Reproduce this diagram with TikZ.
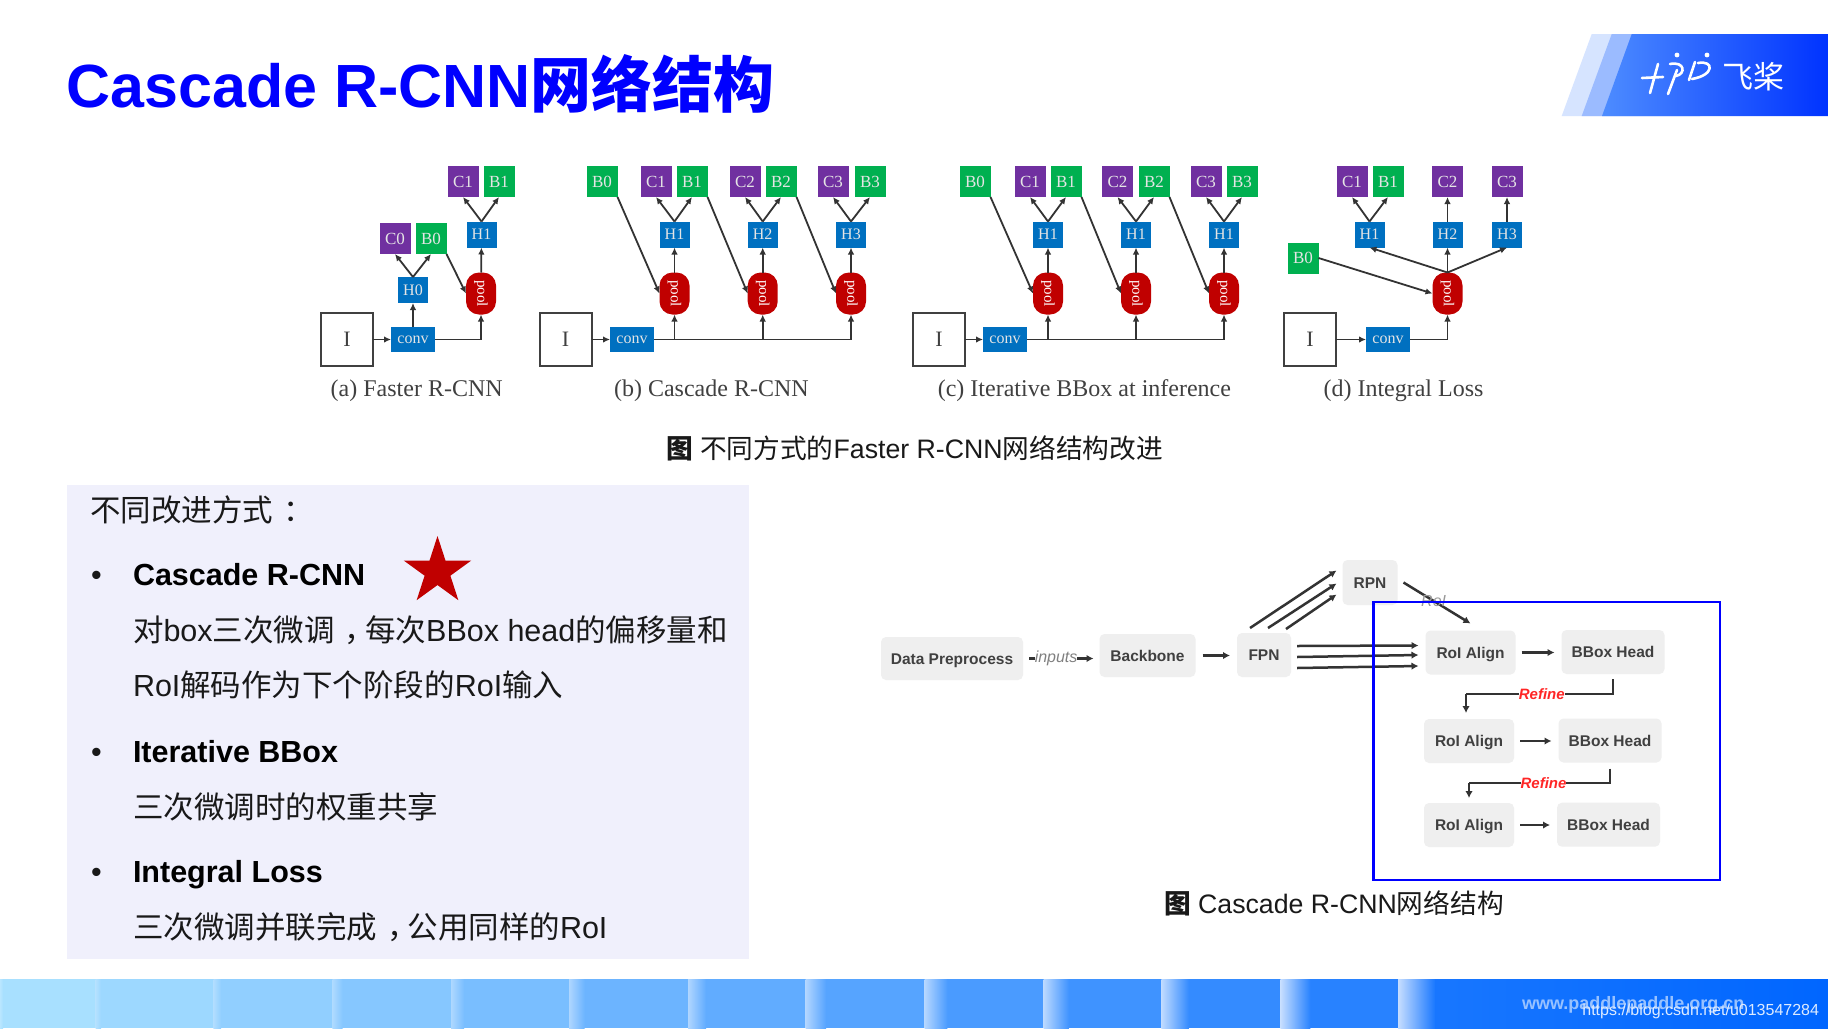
\documentclass[tikz,border=0pt]{standalone}
\usepackage{fontspec}
\setmainfont{Liberation Sans}
\newfontfamily\cjk{Noto Sans CJK SC}
\newfontfamily\serif{Liberation Serif}
\usetikzlibrary{arrows.meta,shapes.geometric}
\newcommand{\zh}[1]{{\cjk #1}}
% full-width punctuation set in the middle of its cell
\newcommand{\zp}[1]{{\cjk\kern.33em #1\kern-.33em}}
\newcommand{\fs}[1]{\fontsize{#1}{#1}\selectfont}
\newcommand{\pooltxt}{\rotatebox{-90}{pool}}
\definecolor{cpurple}{HTML}{7030A0}
\definecolor{cgreen}{HTML}{00B050}
\definecolor{cblue}{HTML}{0070C0}
\definecolor{cred}{HTML}{C00000}
\definecolor{panel}{HTML}{F0F0FC}
\definecolor{barstart}{HTML}{A8E0FF}
\definecolor{barend}{HTML}{1A78FF}
\definecolor{boxgrey}{HTML}{EFEFEF}
\definecolor{logoa}{HTML}{D6E4FF}
\definecolor{logob}{HTML}{9BBBFF}
\definecolor{logoc}{HTML}{4D8CFF}
\definecolor{logod}{HTML}{0033FF}
\tikzset{
  every node/.style={inner sep=0,outer sep=0},
  sq/.style={minimum width=31,minimum height=31,text=white!90!black,font=\serif\fs{17}},
  cc/.style={sq,fill=cpurple},
  bb/.style={sq,fill=cgreen},
  hh/.style={minimum width=30,minimum height=26,fill=cblue,text=white!90!black,font=\serif\fs{16}},
  cv/.style={minimum width=44,minimum height=25,fill=cblue,text=white!90!black,font=\serif\fs{16}},
  pl/.style={minimum width=30,minimum height=42,fill=cred,rounded corners=13,text=white,font=\serif\fs{15}},
  im/.style={minimum width=52,minimum height=53,draw=black!75,line width=1.8,font=\serif\fs{22},text=black!75},
  ar/.style={draw=black!80,line width=1.8,-{Latex[length=7,width=6.5]}},
  subcap/.style={anchor=base,font=\serif\fs{24},text=black!75},
  row/.style={anchor=base west,font=\fs{30.5},text=black!90},
  hd/.style={anchor=base west,font=\bfseries\fs{30.5},text=black},
  gb/.style={fill=boxgrey,rounded corners=5,font=\bfseries\fs{15.5},text=black!75,text height=11,text depth=0},
  go/.style={draw=black!80,line width=2.5,-{Latex[length=7,width=7.5]}},
  go2/.style={draw=black!80,line width=2.5},
  tag/.style={font=\itshape\fs{16},text=black!50},
  rf/.style={font=\bfseries\itshape\fs{15},text=red!85!white}
}
\begin{document}
\begin{tikzpicture}[x=1pt,y=-1pt]
\useasboundingbox (0,0) rectangle (1828,1028);
\fill[white] (0,0) rectangle (1828,1028);

% logo band
\fill[logoa] (1591.7,34) -- (1700,34) -- (1700,116) -- (1561.7,116) -- cycle;
\fill[logob] (1611.7,34) -- (1700,34) -- (1700,116) -- (1581.7,116) -- cycle;
\shade[left color=logoc,right color=logod] (1631.7,34) -- (1828,34) -- (1828,116) -- (1602,116) -- cycle;
\begin{scope}[white,line width=2.6,line cap=round]
  \draw (1642,78) -- (1663,77);
  \draw (1658,64) -- (1650,93);
  \draw (1670,64) .. controls (1685,61) and (1686,74) .. (1676,76);
  \draw (1677,70) -- (1668,94);
  \draw (1695,62) -- (1689,80);
  \draw (1698,63) .. controls (1714,60) and (1715,75) .. (1692,79);
  \fill (1677,55) circle (2.4);
  \fill (1707,55) circle (2.4);
\end{scope}
\node[font=\cjk\fs{31},text=white,anchor=center] (fj) at (1753,77) {飞桨};

% title
\node[anchor=base west,font=\bfseries\fs{61},text=blue] (title) at (66.5,107) {Cascade R-CNN\zh{网络结构}};

% panel a
\node[im] (aI) at (347,339.5) {I};
\node[cv] (aconv) at (413,339.5) {conv};
\node[hh] (aH0) at (413,290) {H0};
\node[cc] (aC0) at (395,238.5) {C0};
\node[bb] (aB0) at (431,238.5) {B0};
\node[pl] (ap) at (481,293.5) {\pooltxt};
\node[hh] (aH1) at (481.5,234.5) {H1};
\node[cc] (aC1) at (463,181.5) {C1};
\node[bb] (aB1) at (499,181.5) {B1};
\node[subcap] (acap) at (416.7,396) {(a) Faster R-CNN};
\draw[ar] (aI) -- (aconv);
\draw[ar] (aconv) -- (aH0);
\draw[ar] (aconv.east) -| (ap.south);
\draw[ar] (aH0.north) -- (aC0.south);
\draw[ar] (aH0.north) -- (aB0.south);
\draw[ar] (aB0.south east) -- (ap.west);
\draw[ar] (ap) -- (aH1);
\draw[ar] (aH1.north) -- (aC1.south);
\draw[ar] (aH1.north) -- (aB1.south);

% panel b
\node[im] (bI) at (565.6,339.5) {I};
\node[cv] (bconv) at (632,339.5) {conv};
\node[bb] (bB0) at (602,181.5) {B0};
\node[cc] (bC1) at (656,181.5) {C1};
\node[bb] (bB1) at (692,181.5) {B1};
\node[hh] (bH1) at (674.5,234.5) {H1};
\node[pl] (bp1) at (674.5,293.5) {\pooltxt};
\node[cc] (bC2) at (745,181.5) {C2};
\node[bb] (bB2) at (781,181.5) {B2};
\node[hh] (bH2) at (762.7,234.5) {H2};
\node[pl] (bp2) at (762.7,293.5) {\pooltxt};
\node[cc] (bC3) at (833,181.5) {C3};
\node[bb] (bB3) at (870,181.5) {B3};
\node[hh] (bH3) at (851,234.5) {H3};
\node[pl] (bp3) at (851,293.5) {\pooltxt};
\node[subcap] (bcap) at (711.4,396) {(b) Cascade R-CNN};
\draw[ar] (bI) -- (bconv);
\draw[ar] (bconv.east) -| (bp3.south);
\draw[ar] (bconv.east -| bp1) -- (bp1.south);
\draw[ar] (bconv.east -| bp2) -- (bp2.south);
\draw[ar] (bB0.south east) -- (bp1.west);
\draw[ar] (bB1.south east) -- (bp2.west);
\draw[ar] (bB2.south east) -- (bp3.west);
\draw[ar] (bp1) -- (bH1);
\draw[ar] (bp2) -- (bH2);
\draw[ar] (bp3) -- (bH3);
\draw[ar] (bH1.north) -- (bC1.south);
\draw[ar] (bH1.north) -- (bB1.south);
\draw[ar] (bH2.north) -- (bC2.south);
\draw[ar] (bH2.north) -- (bB2.south);
\draw[ar] (bH3.north) -- (bC3.south);
\draw[ar] (bH3.north) -- (bB3.south);

% panel c
\node[im] (cI) at (939,339.5) {I};
\node[cv] (cconv) at (1005,339.5) {conv};
\node[bb] (cB0) at (975,181.5) {B0};
\node[cc] (cC1) at (1030,181.5) {C1};
\node[bb] (cB1) at (1066,181.5) {B1};
\node[hh] (cH1) at (1048,234.5) {H1};
\node[pl] (cp1) at (1048,293.5) {\pooltxt};
\node[cc] (cC2) at (1117.5,181.5) {C2};
\node[bb] (cB2) at (1154,181.5) {B2};
\node[hh] (cH2) at (1136,234.5) {H1};
\node[pl] (cp2) at (1136,293.5) {\pooltxt};
\node[cc] (cC3) at (1206,181.5) {C3};
\node[bb] (cB3) at (1242,181.5) {B3};
\node[hh] (cH3) at (1224,234.5) {H1};
\node[pl] (cp3) at (1224,293.5) {\pooltxt};
\node[subcap] (ccap) at (1084.4,396) {(c) Iterative BBox at inference};
\draw[ar] (cI) -- (cconv);
\draw[ar] (cconv.east) -| (cp3.south);
\draw[ar] (cconv.east -| cp1) -- (cp1.south);
\draw[ar] (cconv.east -| cp2) -- (cp2.south);
\draw[ar] (cB0.south east) -- (cp1.west);
\draw[ar] (cB1.south east) -- (cp2.west);
\draw[ar] (cB2.south east) -- (cp3.west);
\draw[ar] (cp1) -- (cH1);
\draw[ar] (cp2) -- (cH2);
\draw[ar] (cp3) -- (cH3);
\draw[ar] (cH1.north) -- (cC1.south);
\draw[ar] (cH1.north) -- (cB1.south);
\draw[ar] (cH2.north) -- (cC2.south);
\draw[ar] (cH2.north) -- (cB2.south);
\draw[ar] (cH3.north) -- (cC3.south);
\draw[ar] (cH3.north) -- (cB3.south);

% panel d
\node[im] (dI) at (1310,339.5) {I};
\node[cv] (dconv) at (1388,339.5) {conv};
\node[bb] (dB0) at (1303,258) {B0};
\node[cc] (dC1) at (1352,181.5) {C1};
\node[bb] (dB1) at (1388,181.5) {B1};
\node[hh] (dH1) at (1369.5,234.5) {H1};
\node[cc] (dC2) at (1447.5,181.5) {C2};
\node[hh] (dH2) at (1447.5,234.5) {H2};
\node[cc] (dC3) at (1507,181.5) {C3};
\node[hh] (dH3) at (1507,234.5) {H3};
\node[pl] (dp) at (1447.5,293.5) {\pooltxt};
\node[subcap] (dcap) at (1403.5,396) {(d) Integral Loss};
\draw[ar] (dI) -- (dconv);
\draw[ar] (dconv.east) -| (dp.south);
\draw[ar] (dB0.east) -- (dp.west);
\draw[ar] (dp.north) -- (dH1.south);
\draw[ar] (dp.north) -- (dH2.south);
\draw[ar] (dp.north) -- (dH3.south);
\draw[ar] (dH1.north) -- (dC1.south);
\draw[ar] (dH1.north) -- (dB1.south);
\draw[ar] (dH2) -- (dC2);
\draw[ar] (dH3) -- (dC3);

% caption top
\node[anchor=base west,font=\fs{26.7},text=black!90] (cap1) at (666,458.6)
  {\zh{\bfseries 图} \zh{不同方式的}Faster R-CNN\zh{网络结构改进}};

% left text panel
\fill[panel] (66.7,485) rectangle (749,959);
\node[row] (t0) at (90,521) {\zh{不同改进方式}\zp{：}};
\node[row] (d1) at (91,585) {•};
\node[hd] (h1) at (133,585) {Cascade R-CNN};
\node[row] (t1) at (133,641) {\zh{对}box\zh{三次微调}\zp{，}\zh{每次}BBox head\zh{的偏移量和}};
\node[row] (t2) at (133,696.5) {RoI\zh{解码作为下个阶段的}RoI\zh{输入}};
\node[row] (d2) at (91,762) {•};
\node[hd] (h2) at (133,762) {Iterative BBox};
\node[row] (t3) at (133,818) {\zh{三次微调时的权重共享}};
\node[row] (d3) at (91,882) {•};
\node[hd] (h3) at (133,882) {Integral Loss};
\node[row] (t4) at (133,938) {\zh{三次微调并联完成}\zp{，}\zh{公用同样的}RoI};
\node[star,star points=5,star point ratio=2.618,minimum size=71,fill=cred,anchor=center] (st) at (437.5,571.5) {};

% right flow
\node[gb,minimum width=142,minimum height=43] (dp1) at (952,658.5) {Data Preprocess};
\node[gb,minimum width=96,minimum height=43] (bk) at (1147.5,655.5) {Backbone};
\node[gb,minimum width=54,minimum height=44] (fpn) at (1264,655) {FPN};
\node[gb,minimum width=55,minimum height=45] (rpn) at (1370,582.5) {RPN};
\node[gb,minimum width=90,minimum height=44] (ra1) at (1470.5,652.5) {RoI Align};
\node[gb,minimum width=103,minimum height=44] (bh1) at (1613,652) {BBox Head};
\node[gb,minimum width=90,minimum height=44] (ra2) at (1469,741) {RoI Align};
\node[gb,minimum width=103,minimum height=44] (bh2) at (1610,740.5) {BBox Head};
\node[gb,minimum width=90,minimum height=44] (ra3) at (1469,825) {RoI Align};
\node[gb,minimum width=103,minimum height=44] (bh3) at (1608.5,824.7) {BBox Head};
\draw[go] ([xshift=6]dp1.east) -- ([xshift=-6]bk.west |- dp1.east) node[pos=.42,tag,fill=white] (inp) {inputs};
\draw[go] ([xshift=7]bk.east) -- ([xshift=-7]fpn.west |- bk.east);
\draw[go] ([xshift=-14,yshift=5]fpn.north) -- ([xshift=-6,yshift=12]rpn.west);
\draw[go] ([xshift=4,yshift=5]fpn.north) -- ([xshift=-6,yshift=-1]rpn.west);
\draw[go] ([xshift=22,yshift=4]fpn.north) -- ([xshift=-6,yshift=-12]rpn.west);
\draw[go] ([xshift=6,yshift=9]fpn.east) -- ([xshift=-7,yshift=7]ra1.west);
\draw[go] ([xshift=6,yshift=-2]fpn.east) -- ([xshift=-7,yshift=-2.5]ra1.west);
\draw[go] ([xshift=6,yshift=-13]fpn.east) -- ([xshift=-7,yshift=-13.5]ra1.west);
\draw[go] ([xshift=6]rpn.east) -- ([yshift=7]ra1.north) node[pos=.45,tag,text=black!40] (roi) {RoI};
\draw[go] ([xshift=6]ra1.east) -- ([xshift=-7]bh1.west |- ra1.east);
\draw[go] ([xshift=6]ra2.east) -- ([xshift=-7]bh2.west |- ra2.east);
\draw[go] ([xshift=6]ra3.east) -- ([xshift=-7]bh3.west |- ra3.east);
\coordinate (k1) at (1466,694);
\coordinate (k2) at (1469,783);
\draw[go2] ([yshift=-5]bh1.south) |- (k1);
\draw[go] (k1) -- ([yshift=6]k1 |- ra2.north);
\draw[go2] ([yshift=-6]bh2.south) |- (k2);
\draw[go] (k2) -- ([yshift=5]k2 |- ra3.north);
\node[rf,fill=white] (rf1) at (1541.8,694) {Refine};
\node[rf,fill=white] (rf2) at (1543.5,783) {Refine};
\draw[blue,line width=2.8] (1373.5,602) rectangle (1720,880);
\node[anchor=base west,font=\fs{26.7},text=black!90] (cap2) at (1164,913.6)
  {\zh{\bfseries 图} Cascade R-CNN\zh{网络结构}};

% bottom bar
\foreach \xa/\xb/\mx in {0/95.6/0,95.6/213.4/8,213.4/332.3/16,332.3/451.2/24,451.2/569/33,569/688/42,688/805.7/50,805.7/924.6/58,924.6/1043.6/66,1043.6/1161.3/74,1161.3/1280.3/82,1280.3/1398/90}{
  \colorlet{bnd}{barend!\mx!barstart}
  \fill[bnd] (\xa,979) rectangle (\xb,1028);
  \pgfmathsetmacro{\hlw}{3+\mx*0.3}
  \pgfmathtruncatemacro{\wh}{20+\mx*0.6}
  \shade[left color=white!\wh!bnd,right color=bnd] (\xa,979) rectangle (\xa+\hlw,1028);
}
\shade[left color=barend,right color=blue!60!cyan] (1398,979) rectangle (1828,1028);
\shade[left color=white!75!barend,right color=barend] (1398,979) rectangle (1435,1028);
\node[anchor=base west,font=\bfseries\fs{18},text=white!55!barend] (web) at (1522,1009) {www.paddlepaddle.org.cn};
\node[anchor=base east,font=\fs{16},text=white!85!barend] (wm) at (1819,1015) {https://blog.csdn.net/u013547284};
\end{tikzpicture}
\end{document}
